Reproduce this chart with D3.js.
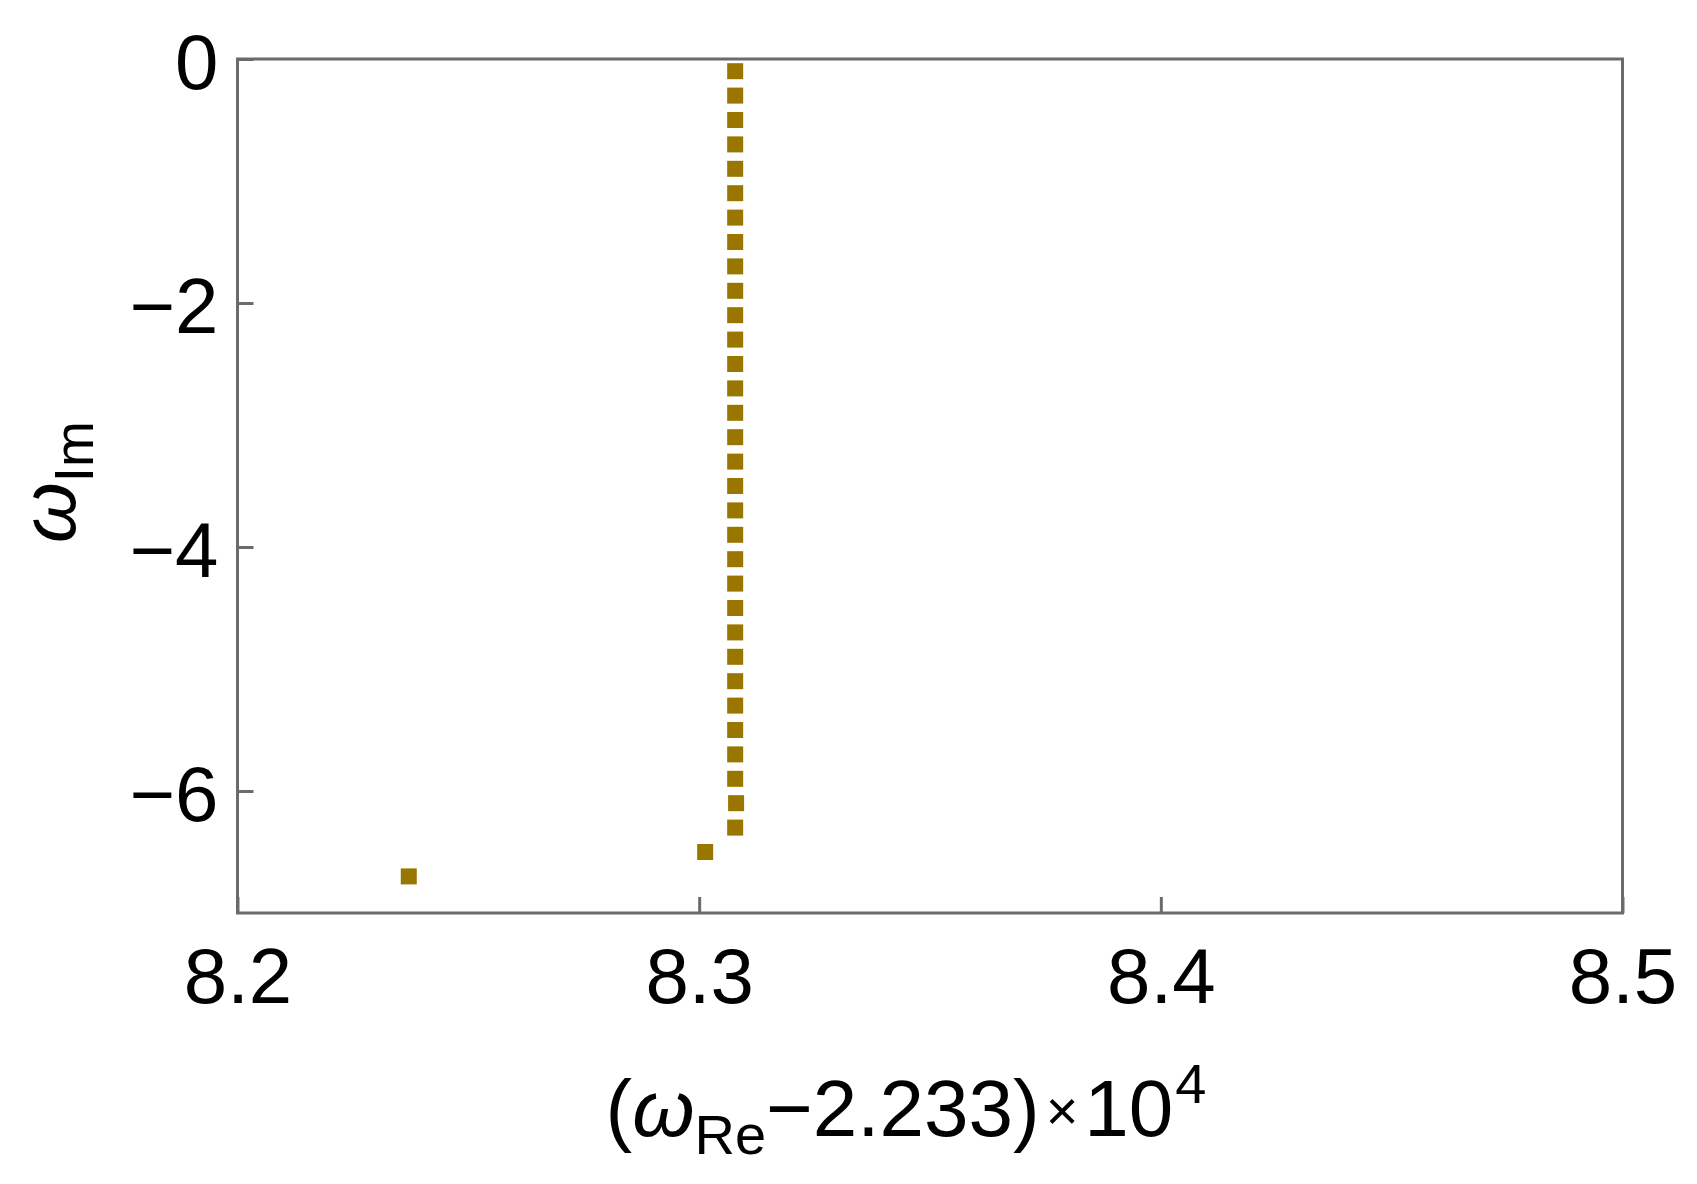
<!DOCTYPE html>
<html>
<head>
<meta charset="utf-8">
<script src="https://cdn.jsdelivr.net/npm/d3@7"></script>
<style>
  body { margin: 0; background: #fff; }
  text { font-family: "Liberation Sans", Arial, sans-serif; fill: #000; }
</style>
</head>
<body>
<svg id="chart" width="1697" height="1184"></svg>
<script>
// column of modes (Re offset, Im part)
var colRe = [8.3078, 8.3078, 8.3078, 8.3078, 8.3078, 8.3078, 8.3078, 8.3078,
             8.3078, 8.3078, 8.3078, 8.3078, 8.3078, 8.3078, 8.3078, 8.3078,
             8.3078, 8.3078, 8.3078, 8.3078, 8.3078, 8.3078, 8.3078, 8.3078,
             8.3078, 8.3078, 8.3078, 8.3078, 8.3078, 8.3078, 8.3080, 8.3078];
var colIm = [-0.1, -0.3, -0.5, -0.7, -0.9, -1.1, -1.3, -1.5,
             -1.7, -1.9, -2.1, -2.3, -2.5, -2.7, -2.9, -3.1,
             -3.3, -3.5, -3.7, -3.9, -4.1, -4.3, -4.5, -4.7,
             -4.9, -5.1, -5.3, -5.5, -5.7, -5.9, -6.1, -6.3];
// the two stray modes at the bottom
var extraRe = [8.3013, 8.2371];
var extraIm = [-6.50, -6.70];

var xTicks = [8.2, 8.3, 8.4, 8.5];
var yTicks = [0, -2, -4, -6];

(function(){
  var svg = d3.select("#chart");
  // note: "top" clashes with window.top, so use plot* names
  var plotLeft = 237.5, plotRight = 1622.5, plotTop = 59, plotBottom = 913;
  var frameColor = "#6b6b6b",
      dotColor = "#997600",
      fontSize = 78,
      side = 16;

  var x = d3.scaleLinear().domain([8.2, 8.5]).range([plotLeft, plotRight]);
  var y = d3.scaleLinear().domain([-7, 0]).range([plotBottom, plotTop]);

  var points = [];
  for (var i = 0; i < colRe.length; i++) points.push({re: colRe[i], im: colIm[i]});
  for (var j = 0; j < extraRe.length; j++) points.push({re: extraRe[j], im: extraIm[j]});

  // markers
  svg.append("g").selectAll("rect")
      .data(points)
      .enter().append("rect")
      .attr("x", function(d) { return x(d.re) - side / 2; })
      .attr("y", function(d) { return y(d.im) - side / 2; })
      .attr("width", side)
      .attr("height", side)
      .attr("fill", dotColor);

  // frame
  svg.append("rect")
      .attr("x", plotLeft).attr("y", plotTop)
      .attr("width", plotRight - plotLeft).attr("height", plotBottom - plotTop)
      .attr("fill", "none")
      .attr("stroke", frameColor)
      .attr("stroke-width", 3);

  // bottom axis (ticks point inward)
  var xAxis = svg.append("g")
      .attr("transform", "translate(0," + plotBottom + ")")
      .call(d3.axisBottom(x).tickValues(xTicks).tickSizeInner(-16).tickSizeOuter(0)
        .tickFormat(d3.format(".1f")).tickPadding(0));
  xAxis.select(".domain").remove();
  xAxis.selectAll(".tick line").attr("stroke", frameColor).attr("stroke-width", 3);
  xAxis.selectAll(".tick text")
      .attr("y", 90).attr("dy", 0)
      .attr("font-size", fontSize)
      .attr("font-family", "Liberation Sans, Arial, sans-serif")
      .attr("fill", "#000");

  // left axis
  var yAxis = svg.append("g")
      .attr("transform", "translate(" + plotLeft + ",0)")
      .call(d3.axisLeft(y).tickValues(yTicks).tickSizeInner(-16).tickSizeOuter(0)
        .tickFormat(function(d) { return d < 0 ? "\u2212" + Math.abs(d) : d; }));
  yAxis.select(".domain").remove();
  yAxis.selectAll(".tick line").attr("stroke", frameColor).attr("stroke-width", 3);
  yAxis.selectAll(".tick text")
      .attr("x", -19).attr("dy", 29)
      .attr("font-size", fontSize)
      .attr("font-family", "Liberation Sans, Arial, sans-serif")
      .attr("fill", "#000");

  // x label: (ω_Re − 2.233) × 10^4
  var xl = svg.append("text")
      .attr("x", 906).attr("y", 1136)
      .attr("text-anchor", "middle")
      .attr("font-size", 80);
  xl.append("tspan").text("(");
  xl.append("tspan").attr("font-style", "italic").text("\u03c9");
  xl.append("tspan").attr("font-size", 56).attr("dy", 18).text("Re");
  xl.append("tspan").attr("dy", -18).text("\u22122.233)");
  xl.append("tspan").attr("font-size", 56).attr("dx", 6).attr("dy", -6).text("\u00d7");
  xl.append("tspan").attr("dx", 6).attr("dy", 6).text("10");
  xl.append("tspan").attr("font-size", 56).attr("dx", 2).attr("dy", -33).text("4");

  // y label: ω_Im
  var yl = svg.append("text")
      .attr("transform", "translate(75,482) rotate(-90)")
      .attr("text-anchor", "middle")
      .attr("font-size", fontSize);
  yl.append("tspan").attr("font-style", "italic").text("\u03c9");
  yl.append("tspan").attr("font-size", 55).attr("dy", 18).text("Im");
})();
</script>
</body>
</html>
